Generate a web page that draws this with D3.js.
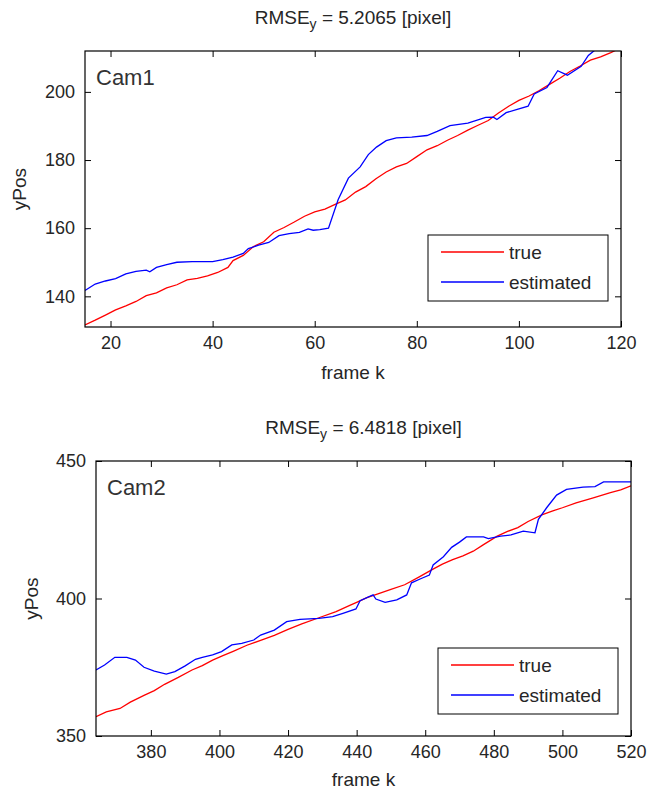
<!DOCTYPE html>
<html>
<head>
<meta charset="utf-8">
<script src="https://cdn.jsdelivr.net/npm/d3@7"></script>
<style>
    body { margin: 0; background: #fff; }
    text { font-family: "Liberation Sans", Arial, sans-serif; fill: #262626; }
</style>
</head>
<body>
<svg id="chart" width="650" height="792"></svg>
<script>
// Cam1 - true track
const cam1TrueFrames = [15, 17, 19, 21, 23, 25, 27, 29, 31, 33, 35, 37, 39, 41, 43, 44, 46, 48, 50, 52, 54, 56, 58, 60, 62, 64, 66, 68, 70, 72, 74, 76, 78, 80, 82, 84, 86, 88, 90, 92, 94, 96, 98, 100, 102, 104, 106, 108, 110, 112, 114, 116, 118, 120];
const cam1TrueY = [131.6, 133, 134.5, 136, 137.2, 138.5, 140.2, 141, 142.5, 143.4, 144.8, 145.3, 146, 147, 148.5, 150.5, 152, 154.6, 156, 158.8, 160.2, 161.8, 163.5, 164.8, 165.6, 167, 168.3, 170.6, 172.2, 174.5, 176.5, 178, 179, 181, 183, 184.2, 185.8, 187.2, 188.8, 190.2, 191.6, 193.8, 195.8, 197.5, 198.8, 200.4, 202.2, 204, 206, 207.6, 209.3, 210.3, 211.5, 213];

// Cam1 - estimated track
const cam1EstFrames = [15, 17, 19, 21, 23, 25, 27, 27.7, 29, 31, 33, 36, 40, 42, 44, 46, 47, 49, 51, 53, 55, 57, 58.7, 59.7, 61, 62.7, 64.6, 66.6, 68.9, 70.5, 72.1, 74, 76, 79, 82, 84, 86.5, 90, 93.5, 95, 95.7, 97.5, 100, 101.8, 103, 105.5, 107.6, 109.5, 112.2, 113.6, 115.5, 117];
const cam1EstY = [141.7, 143.6, 144.5, 145.2, 146.6, 147.3, 147.7, 147.2, 148.5, 149.3, 150, 150.2, 150.2, 150.8, 151.5, 152.6, 154, 155, 155.8, 157.8, 158.4, 158.8, 159.8, 159.4, 159.6, 160, 168.4, 174.7, 178, 181.6, 183.8, 185.7, 186.5, 186.7, 187.2, 188.4, 190.1, 190.8, 192.5, 192.6, 191.9, 193.9, 195, 195.8, 199.4, 201.3, 206.2, 204.9, 207.5, 210.7, 213, 215];

// Cam2 - true track
const cam2TrueFrames = [364, 367, 371, 374, 378, 381, 384, 388, 392, 395, 398, 401, 404, 408, 412, 416, 420, 424, 429, 434, 438, 440, 443, 446, 450, 454, 458, 462, 465, 468, 471, 474, 477, 481, 484, 487, 490, 494, 497, 500, 504, 509, 514, 517, 520];
const cam2TrueY = [357, 358.8, 360, 362.3, 364.8, 366.5, 368.8, 371.3, 374, 375.6, 377.6, 379.2, 380.8, 383, 384.8, 386.6, 388.8, 390.8, 393, 395.2, 397.5, 398.6, 400.3, 401.6, 403.3, 405, 407.7, 410.5, 412.5, 414.1, 415.5, 417.2, 419.6, 422.7, 424.4, 425.8, 428, 430.4, 431.8, 433, 434.8, 436.6, 438.5, 439.5, 441];

// Cam2 - estimated track
const cam2EstFrames = [364, 366.5, 369.5, 373, 375.5, 378, 381, 384.5, 387, 390, 393, 395, 398, 400.6, 403.6, 406.5, 410, 412, 416, 419.6, 423.5, 429, 433, 436, 439.8, 441, 444.8, 445.6, 448.3, 451.7, 454.6, 456, 458.5, 461.2, 462.3, 465.3, 467.7, 470, 472, 477, 478.4, 482, 485, 488.6, 492, 493, 495.4, 498.3, 501.2, 506, 509.5, 512, 520];
const cam2EstY = [374, 375.8, 378.6, 378.6, 377.6, 375, 373.6, 372.5, 373.4, 375.5, 377.9, 378.6, 379.5, 380.7, 383.1, 383.7, 384.9, 386.7, 388.5, 391.6, 392.4, 392.8, 393.4, 394.6, 396.2, 399.2, 401.3, 399.8, 398.6, 399.5, 401.3, 405.7, 407.1, 408.5, 412.2, 415.2, 418.6, 420.5, 422.4, 422.4, 421.8, 422.7, 423.1, 424.5, 423.9, 428.8, 433, 437.6, 439.7, 440.5, 440.7, 442.4, 442.4];

const cam1XTicks = [20, 40, 60, 80, 100, 120];
const cam1YTicks = [140, 160, 180, 200];
const cam2XTicks = [380, 400, 420, 440, 460, 480, 500, 520];
const cam2YTicks = [350, 400, 450];

const svg = d3.select('#chart');

function drawPanel(p) {
    const x = d3.scaleLinear().domain(p.xDomain).range([p.left, p.right]);
    const y = d3.scaleLinear().domain(p.yDomain).range([p.bottom, p.top]);
    const w = p.right - p.left, h = p.bottom - p.top;
    const g = svg.append('g');

    g.append('rect').attr('x', p.left).attr('y', p.top).attr('width', w).attr('height', h)
        .attr('fill', '#fff');

    const clipId = 'clip-' + p.name;
    svg.append('clipPath').attr('id', clipId).append('rect')
        .attr('x', p.left).attr('y', p.top).attr('width', w).attr('height', h);

    // axes with inward ticks (MATLAB box style)
    const fmt = d3.format('d');
    const xb = g.append('g').attr('transform', `translate(0,${p.bottom})`)
        .call(d3.axisBottom(x).tickValues(p.xTicks).tickSizeInner(-6).tickSizeOuter(0).tickPadding(9).tickFormat(fmt));
    const xt = g.append('g').attr('transform', `translate(0,${p.top})`)
        .call(d3.axisTop(x).tickValues(p.xTicks).tickSizeInner(-6).tickSizeOuter(0).tickFormat(''));
    const yl = g.append('g').attr('transform', `translate(${p.left},0)`)
        .call(d3.axisLeft(y).tickValues(p.yTicks).tickSizeInner(-6).tickSizeOuter(0).tickPadding(p.yPad).tickFormat(fmt));
    const yr = g.append('g').attr('transform', `translate(${p.right},0)`)
        .call(d3.axisRight(y).tickValues(p.yTicks).tickSizeInner(-6).tickSizeOuter(0).tickFormat(''));
    [xb, xt, yl, yr].forEach(a => {
        a.select('.domain').remove();
        a.selectAll('.tick line').attr('stroke', '#000');
    });
    g.selectAll('.tick text').attr('font-size', 18).attr('font-family', null).style('fill', '#262626');

    const line = d3.line().x(d => x(d[0])).y(d => y(d[1]));
    const lines = g.append('g').attr('clip-path', `url(#${clipId})`);
    lines.append('path').datum(d3.zip(p.trueFrames, p.trueY))
        .attr('d', line).attr('fill', 'none').attr('stroke', '#ff0000').attr('stroke-width', 1.3);
    lines.append('path').datum(d3.zip(p.estFrames, p.estY))
        .attr('d', line).attr('fill', 'none').attr('stroke', '#0000ff').attr('stroke-width', 1.3);

    g.append('rect').attr('x', p.left).attr('y', p.top).attr('width', w).attr('height', h)
        .attr('fill', 'none').attr('stroke', '#000').attr('stroke-width', 1.2);

    // title with subscript
    const title = g.append('text').attr('x', (p.left + p.right) / 2).attr('y', p.titleY)
        .attr('text-anchor', 'middle').attr('font-size', 19);
    title.append('tspan').text('RMSE');
    title.append('tspan').attr('dy', 5).attr('font-size', 14).text('y');
    title.append('tspan').attr('dy', -5).text(` = ${p.rmse} [pixel]`);

    g.append('text').attr('x', (p.left + p.right) / 2).attr('y', p.xLabelY)
        .attr('text-anchor', 'middle').attr('font-size', 19).text('frame k');
    g.append('text').attr('transform', `translate(${p.yLabelX},${(p.top + p.bottom) / 2}) rotate(-90)`)
        .attr('text-anchor', 'middle').attr('font-size', 19).text('yPos');

    g.append('text').attr('x', p.left + 11).attr('y', p.top + 34)
        .attr('font-size', 22).style('fill', '#333').text(p.name);

    // legend
    const lg = g.append('g');
    lg.append('rect').attr('x', p.legend[0]).attr('y', p.legend[1]).attr('width', 180).attr('height', 66)
        .attr('fill', '#fff').attr('stroke', '#000').attr('stroke-width', 1);
    [['true', '#ff0000', 17], ['estimated', '#0000ff', 47]].forEach(([label, color, dy]) => {
        lg.append('line').attr('x1', p.legend[0] + 13).attr('x2', p.legend[0] + 76)
            .attr('y1', p.legend[1] + dy).attr('y2', p.legend[1] + dy)
            .attr('stroke', color).attr('stroke-width', 1.3);
        lg.append('text').attr('x', p.legend[0] + 81).attr('y', p.legend[1] + dy + 7)
            .attr('font-size', 19).text(label);
    });
}

drawPanel({
    name: 'Cam1', rmse: '5.2065',
    left: 85, right: 621, top: 51, bottom: 327,
    xDomain: [15, 120], yDomain: [131, 212],
    xTicks: cam1XTicks, yTicks: cam1YTicks, yPad: 10,
    trueFrames: cam1TrueFrames, trueY: cam1TrueY, estFrames: cam1EstFrames, estY: cam1EstY,
    titleY: 24, xLabelY: 379, yLabelX: 26, legend: [428, 235]
});

drawPanel({
    name: 'Cam2', rmse: '6.4818',
    left: 96, right: 631, top: 461, bottom: 736,
    xDomain: [364, 520], yDomain: [350, 450],
    xTicks: cam2XTicks, yTicks: cam2YTicks, yPad: 10,
    trueFrames: cam2TrueFrames, trueY: cam2TrueY, estFrames: cam2EstFrames, estY: cam2EstY,
    titleY: 434, xLabelY: 786, yLabelX: 38, legend: [438, 648]
});
</script>
</body>
</html>
